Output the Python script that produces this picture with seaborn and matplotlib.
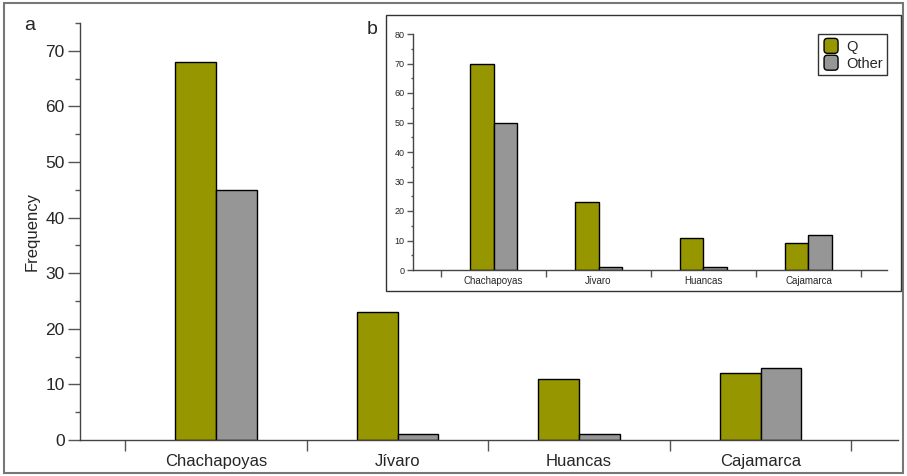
import pandas as pd
import numpy as np
import matplotlib.pyplot as plt
import seaborn as sns
from matplotlib.ticker import MultipleLocator
from matplotlib.patches import Rectangle, FancyBboxPatch
from matplotlib.legend_handler import HandlerPatch

groups = ['Chachapoyas', 'Jívaro', 'Huancas', 'Cajamarca']
series = ['Q', 'Other']
main_q = [68, 23, 11, 12]
main_other = [45, 1, 1, 13]
inset_q = [70, 23, 11, 9]
inset_other = [50, 1, 1, 12]

olive = '#969600'
grey = '#969696'

sns.set_style('ticks')
plt.rcParams['font.family'] = ['Liberation Sans', 'DejaVu Sans']


def make_df(q, other):
    return pd.DataFrame({'group': groups * 2,
                         'type': ['Q'] * 4 + ['Other'] * 4,
                         'freq': q + other})


def style_axis(ax, xlim, ymax, ystep, size, xlab_size, xlen, ylen, pad, ypad):
    ax.set_xlim(*xlim)
    ax.set_ylim(0, ymax)
    ax.yaxis.set_major_locator(MultipleLocator(ystep))
    ax.yaxis.set_minor_locator(MultipleLocator(ystep / 2))
    ax.set_xticks(np.arange(-0.5, 4, 1))
    ax.set_xticklabels([])
    ax.set_xticks(range(4), minor=True)
    ax.set_xticklabels(groups, minor=True, fontsize=xlab_size)
    ax.tick_params(axis='x', which='major', length=xlen, color='#555555', width=1)
    ax.tick_params(axis='x', which='minor', length=0, pad=pad)
    ax.tick_params(axis='y', which='major', length=ylen, labelsize=size, width=1,
                   color='#555555', pad=ypad)
    ax.tick_params(axis='y', which='minor', length=ylen * 0.4, width=1, color='#555555')
    for s in ['left', 'bottom']:
        ax.spines[s].set_color('#444444')
        ax.spines[s].set_linewidth(1)
    sns.despine(ax=ax)
    ax.set_xlabel('')


def rounded_handle(legend, orig_handle, xdescent, ydescent, width, height, fontsize):
    return FancyBboxPatch((-xdescent + 1, -ydescent), width - 2, height,
                          boxstyle='round,pad=0,rounding_size=2.5')


fig = plt.figure(figsize=(9.07, 4.76), dpi=100)

# outer frame
fig.patches.append(Rectangle((4 / 907, 3 / 476), 899 / 907, 470 / 476, transform=fig.transFigure,
                             fill=False, edgecolor='#777777', linewidth=1.5, zorder=0))

ax = fig.add_axes([80 / 907, 1 - 440 / 476, (898 - 80) / 907, (440 - 23) / 476])
sns.barplot(data=make_df(main_q, main_other), x='group', y='freq', hue='type',
            palette=[olive, grey], saturation=1, width=0.45, edgecolor='black',
            linewidth=1, ax=ax, legend=False)
style_axis(ax, (-0.75, 3.757), 75, 10, 12.5, 12, 8, 9, 10, 2)
ax.set_ylabel('Frequency', fontsize=12)
ax.yaxis.set_label_coords(-0.049, 0.5)

# inset box
fig.patches.append(Rectangle((386 / 907, 1 - 291 / 476), 515 / 907, 276 / 476, transform=fig.transFigure,
                             facecolor='white', edgecolor='#333333', linewidth=1, zorder=1))

ax2 = fig.add_axes([413 / 907, 1 - 270 / 476, (887 - 413) / 907, (270 - 34) / 476], zorder=2)
ax2.patch.set_alpha(0)
sns.barplot(data=make_df(inset_q, inset_other), x='group', y='freq', hue='type',
            palette=[olive, grey], saturation=1, width=0.45, edgecolor='black',
            linewidth=1, ax=ax2)
style_axis(ax2, (-0.767, 3.748), 80, 10, 6.5, 7, 5, 4, 4, 2)
ax2.set_ylabel('')
handles, labels = ax2.get_legend_handles_labels()
leg = ax2.legend(handles, labels, loc='upper right', bbox_to_anchor=(1.0, 1.0), fontsize=10.5,
                 frameon=True, fancybox=False, edgecolor='black', handlelength=1.15,
                 handleheight=1.2, handletextpad=0.45, borderpad=0.3, labelspacing=0.1,
                 borderaxespad=0.0,
                 handler_map={h: HandlerPatch(patch_func=rounded_handle) for h in handles})
leg.get_frame().set_linewidth(1)

fig.text(30 / 907, 1 - 25 / 476, 'a', fontsize=14, ha='center', va='center')
fig.text(372 / 907, 1 - 30 / 476, 'b', fontsize=14, ha='center', va='center')

plt.savefig('out.png', dpi=100)
